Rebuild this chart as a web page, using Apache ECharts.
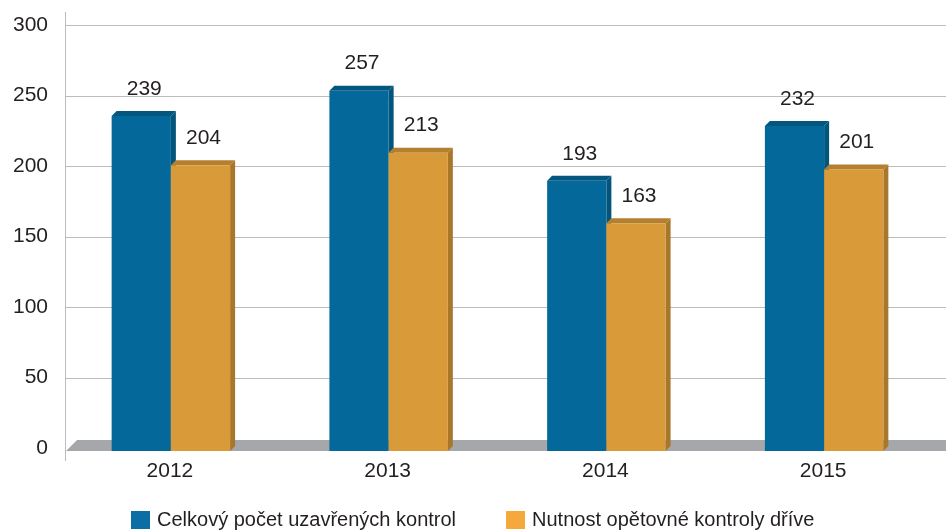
<!DOCTYPE html>
<html>
<head>
<meta charset="utf-8">
<script src="https://cdn.jsdelivr.net/npm/echarts@6/dist/echarts.min.js"></script>
<style>
  html, body { margin: 0; padding: 0; background: #fff; }
  #chart { width: 946px; height: 531px; }
</style>
</head>
<body>
<div id="chart"></div>
<script>
const categories = ['2012', '2013', '2014', '2015']
const totalChecks = [239, 257, 193, 232]
const repeatChecks = [204, 213, 163, 201]
const yTicks = [0, 50, 100, 150, 200, 250, 300]
const seriesNames = ['Celkový počet uzavřených kontrol', 'Nutnost opětovné kontroly dříve']

const DEPTH = 5
const textColor = '#231f20'
const font = '"Liberation Sans", Arial, sans-serif'

const palette = [
  { front: '#04699a', top: '#03577f', side: '#03557a', legend: '#0b6fa6' },
  { front: '#d99a3a', top: '#b47f2e', side: '#a8772a', legend: '#f5a83c' },
]

// 3D bar: back face sits on the axis value, front face is shifted left/down by DEPTH
function barRenderer(side) {
  return function (params, api) {
    const idx = api.value(0)
    const val = api.value(1)
    const cx = api.coord([idx, 0])[0]
    const zeroY = api.coord([idx, 0])[1]
    const valY = api.coord([idx, val])[1]
    const band = api.size([1, 0])[0]
    const w = band * 0.272
    const fc = cx - 4
    const x1 = side === 0 ? fc - w : fc
    const x2 = x1 + w
    const top = valY + DEPTH
    const bottom = zeroY + 3
    const c = palette[side]
    return {
      type: 'group',
      children: [
        { type: 'polygon', shape: { points: [[x2, top], [x2 + DEPTH, valY], [x2 + DEPTH, bottom - DEPTH], [x2, bottom]] }, style: { fill: c.side } },
        { type: 'polygon', shape: { points: [[x1, top], [x1 + DEPTH, valY], [x2 + DEPTH, valY], [x2, top]] }, style: { fill: c.top } },
        { type: 'rect', shape: { x: x1, y: top, width: w, height: bottom - top }, style: { fill: c.front } },
        { type: 'text', x: (x1 + x2) / 2 + 3, y: valY - 22, style: { text: String(val), fill: textColor, font: '21px ' + font, align: 'center', verticalAlign: 'middle' } },
      ],
    }
  }
}

// gridlines, axis line and grey floor
function floorRenderer(params, api) {
  const cs = params.coordSys
  const right = api.getWidth()
  const zeroY = api.coord([0, 0])[1]
  const children = yTicks.filter(t => t > 0).map(t => {
    const y = Math.round(api.coord([0, t])[1]) + 0.5
    return { type: 'line', shape: { x1: cs.x, y1: y, x2: right, y2: y }, style: { stroke: '#bcbcbc', lineWidth: 1 } }
  })
  children.push({ type: 'line', shape: { x1: cs.x - 0.5, y1: cs.y - 13, x2: cs.x - 0.5, y2: zeroY + 13 }, style: { stroke: '#bcbcbc', lineWidth: 1 } })
  children.push({
    type: 'polygon',
    shape: { points: [[cs.x, zeroY + 3], [cs.x + 11, zeroY - 8], [right, zeroY - 8], [right, zeroY + 3]] },
    style: { fill: '#a6a7aa' },
  })
  return { type: 'group', children }
}

const chart = echarts.init(document.getElementById('chart'))
chart.setOption({
  animation: false,
  grid: { left: 66, top: 25, width: 871, height: 423 },
  legend: {
    left: 126,
    top: 505,
    itemWidth: 19,
    itemHeight: 18,
    itemGap: 50,
    icon: 'rect',
    textStyle: { fontSize: 20, color: textColor, fontFamily: font, padding: [0, 0, 0, 2] },
    data: seriesNames.map((n, i) => ({ name: n, itemStyle: { color: palette[i].legend } })),
  },
  xAxis: {
    type: 'category',
    data: categories,
    axisLine: { show: false },
    axisTick: { show: false },
    axisLabel: { fontSize: 21, color: textColor, fontFamily: font, margin: 13, padding: [0, 10, 0, 0] },
  },
  yAxis: {
    type: 'value',
    min: 0,
    max: 300,
    interval: 50,
    axisLine: { show: false },
    axisTick: { show: false },
    splitLine: { show: false },
    axisLabel: { fontSize: 21, color: textColor, fontFamily: font, margin: 18 },
  },
  series: [
    { type: 'custom', name: 'floor', z: 1, silent: true, clip: false, renderItem: floorRenderer, data: [[0, 0]] },
    { type: 'custom', name: seriesNames[0], z: 2, clip: false, renderItem: barRenderer(0), itemStyle: { color: palette[0].legend }, data: totalChecks.map((v, i) => [i, v]) },
    { type: 'custom', name: seriesNames[1], z: 2, clip: false, renderItem: barRenderer(1), itemStyle: { color: palette[1].legend }, data: repeatChecks.map((v, i) => [i, v]) },
  ],
})
</script>
</body>
</html>
